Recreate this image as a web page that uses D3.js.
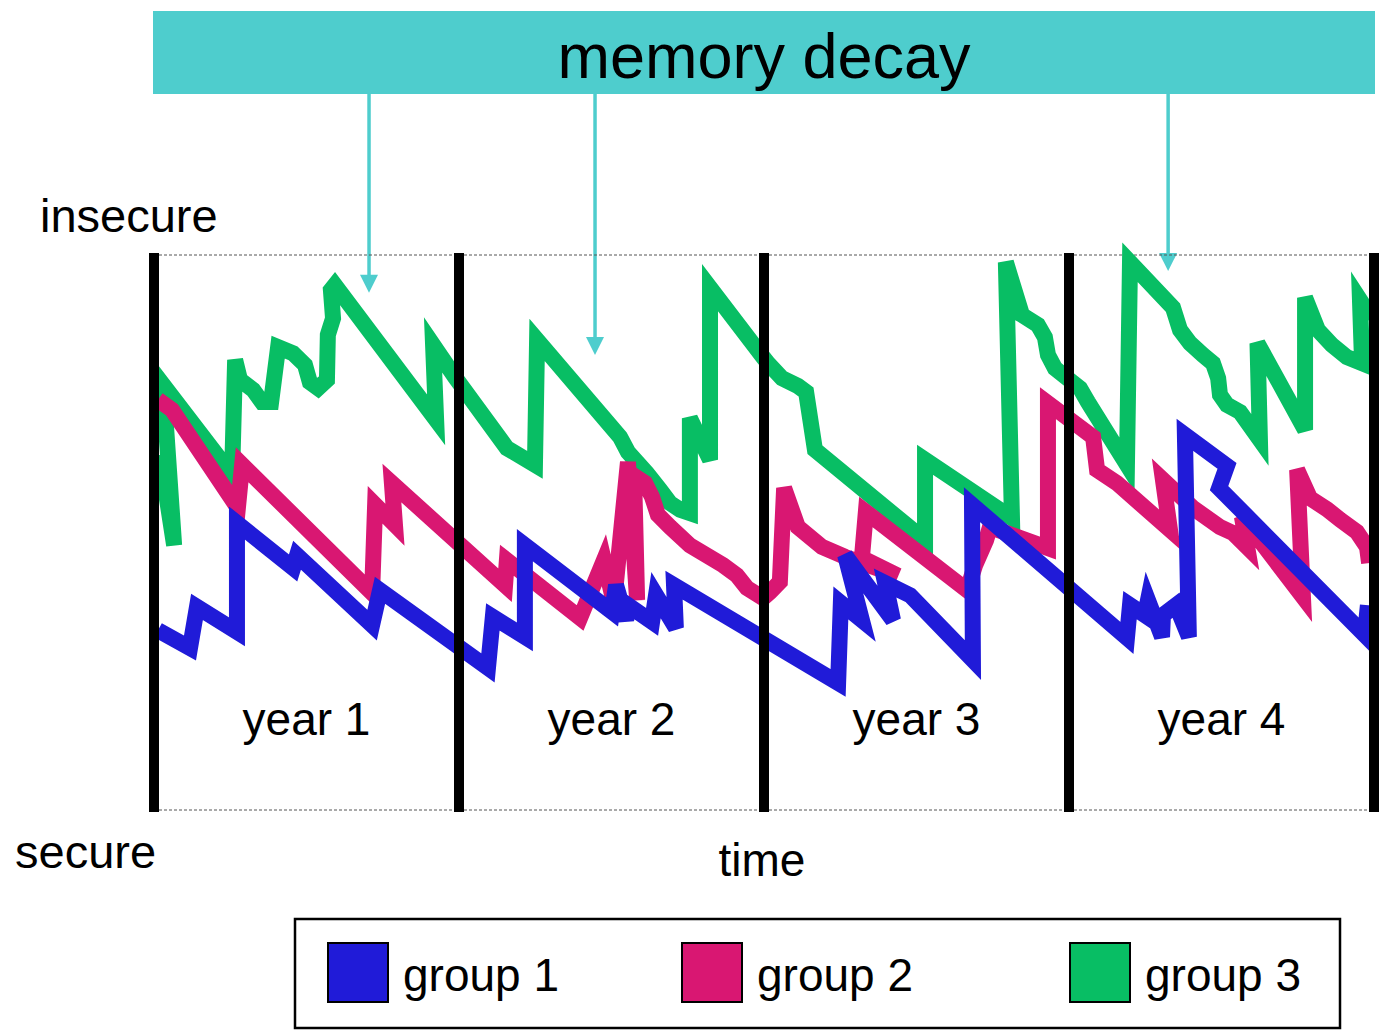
<!DOCTYPE html>
<html>
<head>
<meta charset="utf-8">
<script src="https://cdn.jsdelivr.net/npm/d3@7"></script>
<style>
  body { margin: 0; background: #fff; }
  svg text { font-family: "Liberation Sans", Arial, sans-serif; }
</style>
</head>
<body>
<div id="chart"></div>
<script>
// time in years (0..4), level 0 = secure .. 100 = insecure
const years = ["year 1", "year 2", "year 3", "year 4"];

const group1_t = [0.013,0.118,0.141,0.272,0.272,0.456,0.469,0.715,0.741,1.095,1.111,1.216,1.216,1.502,1.515,1.548,1.554,1.633,1.646,1.711,1.705,2.243,2.252,2.321,2.266,2.423,2.397,2.479,2.685,2.682,3.190,3.200,3.249,3.259,3.305,3.308,3.351,3.393,3.380,3.518,3.492,3.970,3.980];
const group1_v = [32.4,29.2,36.6,32.1,51.7,43.6,45.9,33.3,39.6,25.6,34.8,31.2,47.7,35.7,40.5,34.2,36.9,33.9,38.7,32.8,40.5,22.9,37.3,34.2,45.9,34.2,40.9,38.7,27.0,55.0,31.0,36.9,35.1,37.8,31.2,35.1,36.9,31.2,67.6,62.0,58.0,31.5,36.9];

const group2_t = [0.013,0.059,0.275,0.289,0.715,0.725,0.790,0.780,1.151,1.157,1.397,1.475,1.508,1.554,1.584,1.574,1.610,1.633,1.652,1.692,1.757,1.866,1.911,1.944,1.997,2.020,2.052,2.066,2.111,2.190,2.266,2.439,2.321,2.334,2.666,2.692,2.728,2.741,2.931,2.931,3.079,3.092,3.157,3.331,3.308,3.407,3.495,3.538,3.584,3.567,3.767,3.748,3.790,3.846,3.889,3.944,3.977,3.984];
const group2_v = [73.9,72.1,54.4,62.2,39.1,55.0,51.4,58.9,40.5,45.0,34.6,45.0,37.3,62.7,37.8,60.2,58.9,56.4,53.2,51.0,47.7,44.1,42.3,40.0,38.2,39.3,41.1,58.0,51.0,47.4,45.6,42.2,45.4,53.7,39.6,44.1,48.6,51.0,47.2,73.3,67.2,61.3,58.9,50.5,59.5,54.4,51.0,49.9,47.4,52.8,38.4,61.3,56.2,54.2,52.3,50.1,47.4,44.5];

const group3_t = [0.020,0.066,0.030,0.256,0.266,0.282,0.325,0.354,0.384,0.407,0.456,0.495,0.511,0.538,0.567,0.570,0.587,0.580,0.593,0.925,0.915,0.987,1.157,1.249,1.256,1.528,1.554,1.616,1.659,1.692,1.725,1.757,1.757,1.823,1.823,1.997,2.013,2.059,2.111,2.138,2.167,2.528,2.528,2.813,2.793,2.846,2.898,2.921,2.931,2.954,2.990,3.036,3.062,3.190,3.200,3.341,3.364,3.397,3.439,3.472,3.489,3.495,3.518,3.561,3.626,3.618,3.774,3.774,3.816,3.862,3.911,3.961,3.954,3.993];
const group3_v = [64.0,47.7,76.6,60.4,81.1,77.5,75.7,73.5,73.5,83.4,82.3,80.2,77.1,76.0,77.5,85.6,88.6,93.7,94.6,70.3,83.8,78.0,65.2,62.2,84.7,67.2,64.5,60.7,57.7,55.3,54.1,53.5,70.6,63.1,94.1,81.6,80.5,77.8,76.4,75.3,64.9,48.6,63.1,52.6,98.7,89.2,87.4,85.2,82.0,79.6,78.0,76.0,73.5,62.2,98.7,90.5,86.5,84.1,82.0,80.5,77.8,74.8,73.0,71.7,66.7,84.1,68.5,92.3,86.5,83.8,81.6,80.5,91.9,88.6];

const groupNames = ["group 1", "group 2", "group 3"];
const groupColors = ["#201bd8", "#d91772", "#08be64"];

// memory decay arrows: time and level of the arrow tip
const arrow_t = [0.705, 1.446, 3.325];
const arrow_v = [93.2, 82.0, 97.1];

const width = 1384, height = 1031;

const svg = d3.select("#chart")
    .append("svg")
    .attr("width", width)
    .attr("height", height);

const x = d3.scaleLinear().domain([0, 4]).range([154, 1374]);
const y = d3.scaleLinear().domain([0, 100]).range([810, 255]);

const teal = "#4ecdcd";

// title banner
svg.append("rect")
    .attr("x", 153).attr("y", 11)
    .attr("width", 1222).attr("height", 83)
    .attr("fill", teal);

svg.append("text")
    .attr("x", 764).attr("y", 78)
    .attr("text-anchor", "middle")
    .attr("font-size", 63)
    .text("memory decay");

// arrows down from the banner
arrow_t.forEach((t, i) => {
    const ax = x(t), tip = y(arrow_v[i]);
    svg.append("line")
        .attr("x1", ax).attr("x2", ax)
        .attr("y1", 94).attr("y2", tip - 16)
        .attr("stroke", teal)
        .attr("stroke-width", 3.5);
    svg.append("path")
        .attr("d", `M${ax - 9},${tip - 18} L${ax + 9},${tip - 18} L${ax},${tip} Z`)
        .attr("fill", teal);
});

// dashed top and bottom
[100, 0].forEach(v => {
    svg.append("line")
        .attr("x1", x(0)).attr("x2", x(4))
        .attr("y1", y(v)).attr("y2", y(v))
        .attr("stroke", "#555")
        .attr("stroke-width", 1)
        .attr("stroke-dasharray", "3,2");
});

// group lines
svg.append("clipPath").attr("id", "plotclip")
    .append("rect")
    .attr("x", x(0)).attr("y", 200)
    .attr("width", x(4) - x(0)).attr("height", 650);

const series = [
    { t: group3_t, v: group3_v, color: groupColors[2] },
    { t: group2_t, v: group2_v, color: groupColors[1] },
    { t: group1_t, v: group1_v, color: groupColors[0] }
];

const line = d3.line()
    .x(d => x(d[0]))
    .y(d => y(d[1]));

const lines = svg.append("g").attr("clip-path", "url(#plotclip)");

series.forEach(s => {
    const pts = s.t.map((t, i) => [t, s.v[i]]);
    lines.append("path")
        .datum(pts)
        .attr("d", line)
        .attr("fill", "none")
        .attr("stroke", s.color)
        .attr("stroke-width", 16)
        .attr("stroke-linejoin", "miter")
        .attr("stroke-miterlimit", 4);
});

// year separators
d3.range(0, 5).forEach(k => {
    svg.append("line")
        .attr("x1", x(k)).attr("x2", x(k))
        .attr("y1", y(100) - 2).attr("y2", y(0) + 2)
        .attr("stroke", "#000")
        .attr("stroke-width", 10);
});

// year labels
svg.selectAll(".year")
    .data(years)
    .enter()
    .append("text")
    .attr("class", "year")
    .attr("x", (d, i) => x(i + 0.5))
    .attr("y", 735)
    .attr("text-anchor", "middle")
    .attr("font-size", 46)
    .text(d => d);

svg.append("text").attr("x", 40).attr("y", 232).attr("font-size", 47).text("insecure");
svg.append("text").attr("x", 15).attr("y", 868).attr("font-size", 47).text("secure");
svg.append("text").attr("x", 762).attr("y", 876).attr("text-anchor", "middle").attr("font-size", 46).text("time");

// legend
svg.append("rect")
    .attr("x", 295).attr("y", 919)
    .attr("width", 1045).attr("height", 109)
    .attr("fill", "none")
    .attr("stroke", "#000")
    .attr("stroke-width", 2.5);

const legendX = [328, 682, 1070];
groupNames.forEach((name, i) => {
    svg.append("rect")
        .attr("x", legendX[i]).attr("y", 943)
        .attr("width", 60).attr("height", 59)
        .attr("fill", groupColors[i])
        .attr("stroke", "#000")
        .attr("stroke-width", 2);
    svg.append("text")
        .attr("x", legendX[i] + 75).attr("y", 991)
        .attr("font-size", 46)
        .text(name);
});
</script>
</body>
</html>
